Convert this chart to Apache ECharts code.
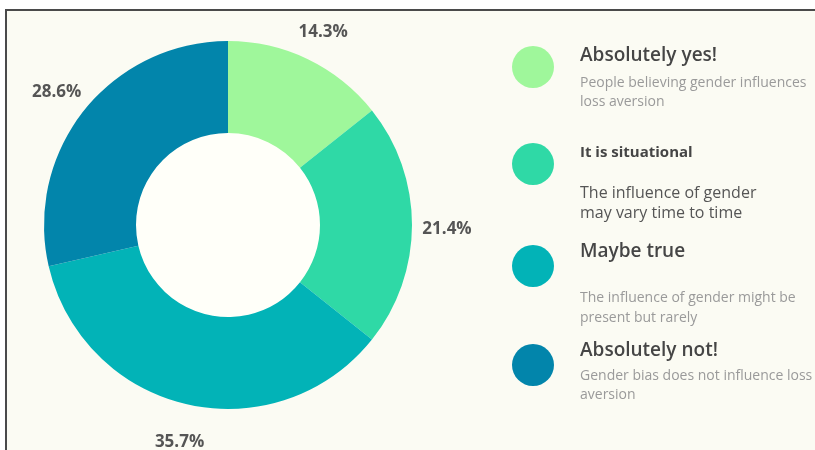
<!DOCTYPE html>
<html>
<head>
<meta charset="utf-8">
<script src="https://cdn.jsdelivr.net/npm/echarts@6/dist/echarts.min.js"></script>
<style>
html,body{margin:0;padding:0;background:#ffffff;}
#chart{width:815px;height:450px;}
</style>
</head>
<body>
<div id="chart"></div>
<script>
// ---- data ----
const categories = ['Absolutely yes!', 'It is situational', 'Maybe true', 'Absolutely not!'];
const values = [14.3, 21.4, 35.7, 28.6];
const colors = ['#9ff79b', '#2fd9a6', '#02b3b7', '#0285ab'];
const descriptions = [
  ['People believing gender influences', 'loss aversion'],
  ['The influence of gender', 'may vary time to time'],
  ['The influence of gender might be', 'present but rarely'],
  ['Gender bias does not influence loss', 'aversion']
];

// ---- legend layout (styles/positions) ----
const legendCircleY = [67, 164, 266, 365];
const titleStyle = [
  {y: 56, font: '600 19px "Open Sans"', fill: '#454545'},
  {y: 153, font: 'bold 15px "Open Sans"', fill: '#454545'},
  {y: 252, font: '600 19px "Open Sans"', fill: '#454545'},
  {y: 351, font: '600 19px "Open Sans"', fill: '#454545'}
];
const descStyle = [
  {y: [83, 102], font: '14px "Open Sans"', fill: '#9a9a9a'},
  {y: [193, 213], font: '16px "Open Sans"', fill: '#555555'},
  {y: [298, 318], font: '14px "Open Sans"', fill: '#9a9a9a'},
  {y: [376, 395], font: '14px "Open Sans"', fill: '#9a9a9a'}
];

const pieData = categories.map((c, i) => ({name: c, value: values[i], itemStyle: {color: colors[i]}}));

const graphics = [
  {type: 'rect', z: -10, shape: {x: 6, y: 10, width: 830, height: 460},
   style: {fill: '#fbfbf3', stroke: '#4a4a4a', lineWidth: 2}},
  {type: 'circle', z: -5, shape: {cx: 228, cy: 225, r: 93}, style: {fill: '#fffff9'}}
];
categories.forEach((c, i) => {
  graphics.push({type: 'circle', shape: {cx: 533, cy: legendCircleY[i], r: 21}, style: {fill: colors[i]}});
  graphics.push({type: 'text', style: {x: 580, y: titleStyle[i].y, text: c, font: titleStyle[i].font,
    fill: titleStyle[i].fill, textVerticalAlign: 'middle', verticalAlign: 'middle'}});
  descriptions[i].forEach((d, j) => {
    graphics.push({type: 'text', style: {x: 580, y: descStyle[i].y[j], text: d, font: descStyle[i].font,
      fill: descStyle[i].fill, textVerticalAlign: 'middle', verticalAlign: 'middle'}});
  });
});

const chart = echarts.init(document.getElementById('chart'), null, {renderer: 'canvas'});
chart.setOption({
  backgroundColor: '#ffffff',
  animation: false,
  graphic: graphics,
  series: [
    {
      type: 'pie',
      center: [228, 225],
      radius: [92, 184],
      startAngle: 90,
      clockwise: true,
      silent: true,
      label: {show: false},
      labelLine: {show: false},
      itemStyle: {borderWidth: 0},
      data: pieData
    },
    {
      type: 'pie',
      center: [228, 229],
      radius: [205, 227],
      startAngle: 90,
      clockwise: true,
      silent: true,
      itemStyle: {color: 'rgba(0,0,0,0)', borderWidth: 0},
      label: {
        show: true,
        position: 'inside',
        formatter: p => p.value.toFixed(1) + '%',
        fontFamily: 'Open Sans',
        fontWeight: 'bold',
        fontSize: 17,
        color: '#555555'
      },
      labelLine: {show: false},
      data: categories.map((c, i) => ({name: c, value: values[i]}))
    }
  ]
});
</script>
</body>
</html>
